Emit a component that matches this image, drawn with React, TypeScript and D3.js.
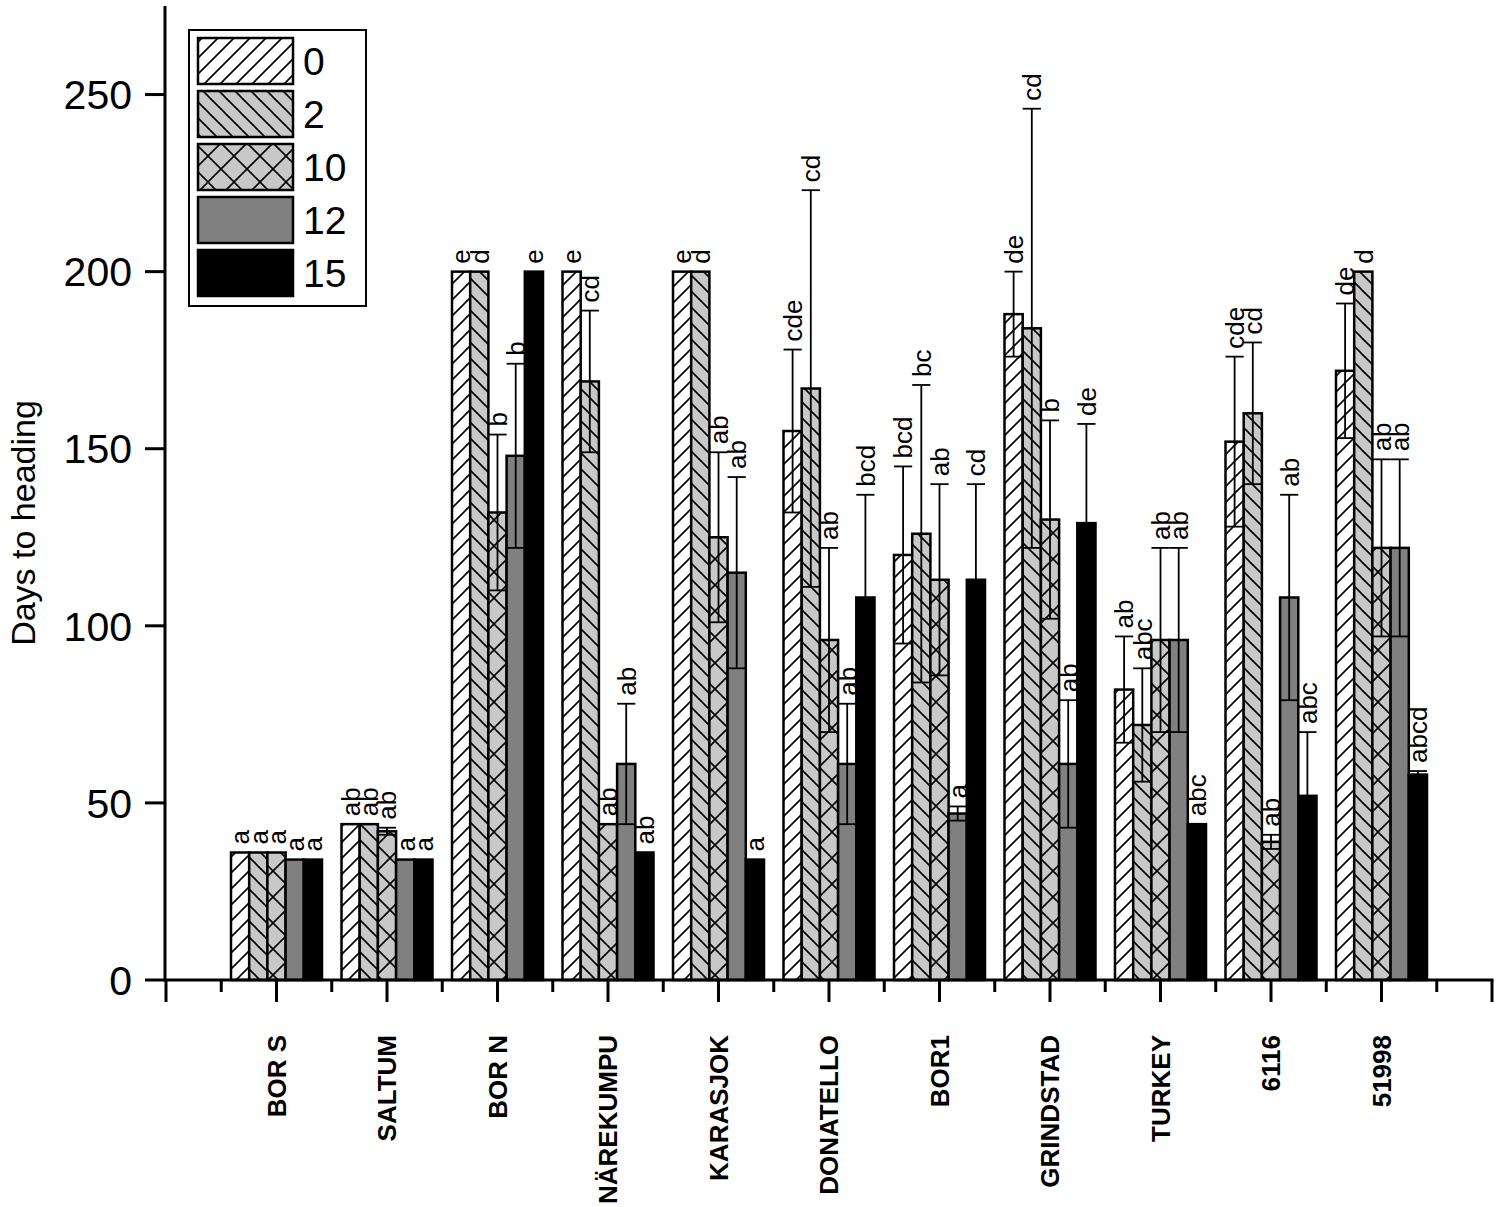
import React from 'react';
import * as d3 from 'd3';

const categories = ["BOR S", "SALTUM", "BOR N", "NÄREKUMPU", "KARASJOK", "DONATELLO", "BOR1", "GRINDSTAD", "TURKEY", "6116", "51998"];
const treatments = ["0", "2", "10", "12", "15"];

const mean0 = [36, 44, 200, 200, 200, 155, 120, 188, 82, 152, 172];
const mean2 = [36, 44, 200, 169, 200, 167, 126, 184, 72, 160, 200];
const mean10 = [36, 42, 132, 44, 125, 96, 113, 130, 96, 39, 122];
const mean12 = [34, 34, 148, 61, 115, 61, 47, 61, 96, 108, 122];
const mean15 = [34, 34, 200, 36, 34, 108, 113, 129, 44, 52, 58];

const sd0 = [0, 0, 0, 0, 0, 23, 25, 12, 15, 24, 19];
const sd2 = [0, 0, 0, 20, 0, 56, 42, 62, 16, 20, 0];
const sd10 = [0, 1, 22, 0, 24, 26, 27, 28, 26, 2, 25];
const sd12 = [0, 0, 26, 17, 27, 17, 2, 18, 26, 29, 25];
const sd15 = [0, 0, 0, 0, 0, 29, 27, 28, 0, 18, 1];

const lab0 = ["a", "ab", "e", "e", "e", "cde", "bcd", "de", "ab", "cde", "de"];
const lab2 = ["a", "ab", "d", "cd", "d", "cd", "bc", "cd", "abc", "cd", "d"];
const lab10 = ["a", "ab", "b", "ab", "ab", "ab", "ab", "b", "ab", "ab", "ab"];
const lab12 = ["a", "a", "b", "ab", "ab", "ab", "a", "ab", "ab", "ab", "ab"];
const lab15 = ["a", "a", "e", "ab", "a", "bcd", "cd", "de", "abc", "abc", "abcd"];

const yTicks = [0, 50, 100, 150, 200, 250];

const means = [mean0, mean2, mean10, mean12, mean15];
const sds = [sd0, sd2, sd10, sd12, sd15];
const labs = [lab0, lab2, lab10, lab12, lab15];
const fills = ["url(#pat0)", "url(#pat1)", "url(#pat2)", "#808080", "#000000"];

const FONT = "'Liberation Sans', Arial, sans-serif";

export default function App() {
  const x = d3.scaleLinear().domain([-1, 11]).range([166, 1492]);
  const y = d3.scaleLinear().domain([0, 275]).range([980, 6]);
  const inner = d3.scaleBand<string>().domain(treatments).range([-45.5, 45.5]).padding(0);
  const bw = inner.bandwidth();

  const majorX = d3.range(-1, 12);
  const minorX = d3.range(-0.5, 11, 1);

  const bars: React.ReactNode[] = [];
  const errs: React.ReactNode[] = [];
  const texts: React.ReactNode[] = [];
  categories.forEach((c, i) => {
    treatments.forEach((t, k) => {
      const m = means[k][i];
      const s = sds[k][i];
      const x0 = x(i) + (inner(t) as number);
      const cx = x0 + bw / 2;
      bars.push(
        <rect key={`b${i}-${k}`} x={x0} y={y(m)} width={bw} height={y(0) - y(m)}
          fill={fills[k]} stroke="#000" strokeWidth={2.5} />
      );
      if (s > 0) {
        errs.push(
          <g key={`e${i}-${k}`} stroke="#000" strokeWidth={1.8}>
            <line x1={cx} x2={cx} y1={y(m + s)} y2={y(m - s)} />
            <line x1={x0} x2={x0 + bw} y1={y(m + s)} y2={y(m + s)} />
            <line x1={x0} x2={x0 + bw} y1={y(m - s)} y2={y(m - s)} />
          </g>
        );
      }
      const ly = y(m + s) - 8;
      texts.push(
        <text key={`t${i}-${k}`} transform={`translate(${cx},${ly}) rotate(-90)`}
          dy="0.36em" textAnchor="start" fontSize={26} fontFamily={FONT} fill="#000">
          {labs[k][i]}
        </text>
      );
    });
  });

  const legendY0 = 38;
  const legendStep = 53;

  return (
    <svg width={1500} height={1207} style={{ position: 'absolute', left: 0, top: 0, background: '#fff' }}>
      <defs>
        <pattern id="pat0" patternUnits="userSpaceOnUse" width={16} height={16}>
          <rect width={16} height={16} fill="#fff" />
          <path d="M-4,4 L4,-4 M0,16 L16,0 M12,20 L20,12" stroke="#000" strokeWidth={1.6} />
        </pattern>
        <pattern id="pat1" patternUnits="userSpaceOnUse" width={16} height={16}>
          <rect width={16} height={16} fill="#c8c8c8" />
          <path d="M-4,12 L4,20 M0,0 L16,16 M12,-4 L20,4" stroke="#000" strokeWidth={1.6} />
        </pattern>
        <pattern id="pat2" patternUnits="userSpaceOnUse" width={26} height={26}>
          <rect width={26} height={26} fill="#c8c8c8" />
          <path d="M0,0 L26,26 M-6,20 L6,32 M20,-6 L32,6 M0,26 L26,0 M-6,6 L6,-6 M20,32 L32,20" stroke="#000" strokeWidth={1.6} />
        </pattern>
      </defs>

      {bars}
      {errs}
      {texts}

      {/* y axis */}
      <line x1={165} x2={165} y1={y(275)} y2={y(0) + 1.5} stroke="#000" strokeWidth={3} />
      {yTicks.map(v => (
        <g key={`yt${v}`}>
          <line x1={145} x2={165} y1={y(v)} y2={y(v)} stroke="#000" strokeWidth={3} />
          <text x={132} y={y(v)} dy="0.36em" textAnchor="end" fontSize={41} fontFamily={FONT}>{v}</text>
        </g>
      ))}
      <text transform={`translate(35,${523}) rotate(-90)`} textAnchor="middle" fontSize={34} fontFamily={FONT}>Days to heading</text>

      {/* x axis */}
      <line x1={164} x2={x(11) + 1.5} y1={y(0)} y2={y(0)} stroke="#000" strokeWidth={3} />
      {majorX.map(v => (
        <line key={`mx${v}`} x1={x(v)} x2={x(v)} y1={y(0)} y2={y(0) + 22} stroke="#000" strokeWidth={3} />
      ))}
      {minorX.map(v => (
        <line key={`nx${v}`} x1={x(v)} x2={x(v)} y1={y(0)} y2={y(0) + 12} stroke="#000" strokeWidth={3} />
      ))}
      {categories.map((c, i) => (
        <text key={`xl${i}`} transform={`translate(${x(i)},1035) rotate(-90)`} dy="0.36em"
          textAnchor="end" fontSize={26} fontWeight="bold" fontFamily={FONT}>{c}</text>
      ))}

      {/* legend */}
      <rect x={189} y={30} width={177} height={276} fill="#fff" stroke="#000" strokeWidth={2} />
      {treatments.map((t, k) => (
        <g key={`lg${k}`}>
          <rect x={198} y={legendY0 + k * legendStep} width={95} height={46} fill={fills[k]} stroke="#000" strokeWidth={2.5} />
          <text x={303} y={legendY0 + k * legendStep + 23} dy="0.36em" fontSize={39} fontFamily={FONT}>{t}</text>
        </g>
      ))}
    </svg>
  );
}
